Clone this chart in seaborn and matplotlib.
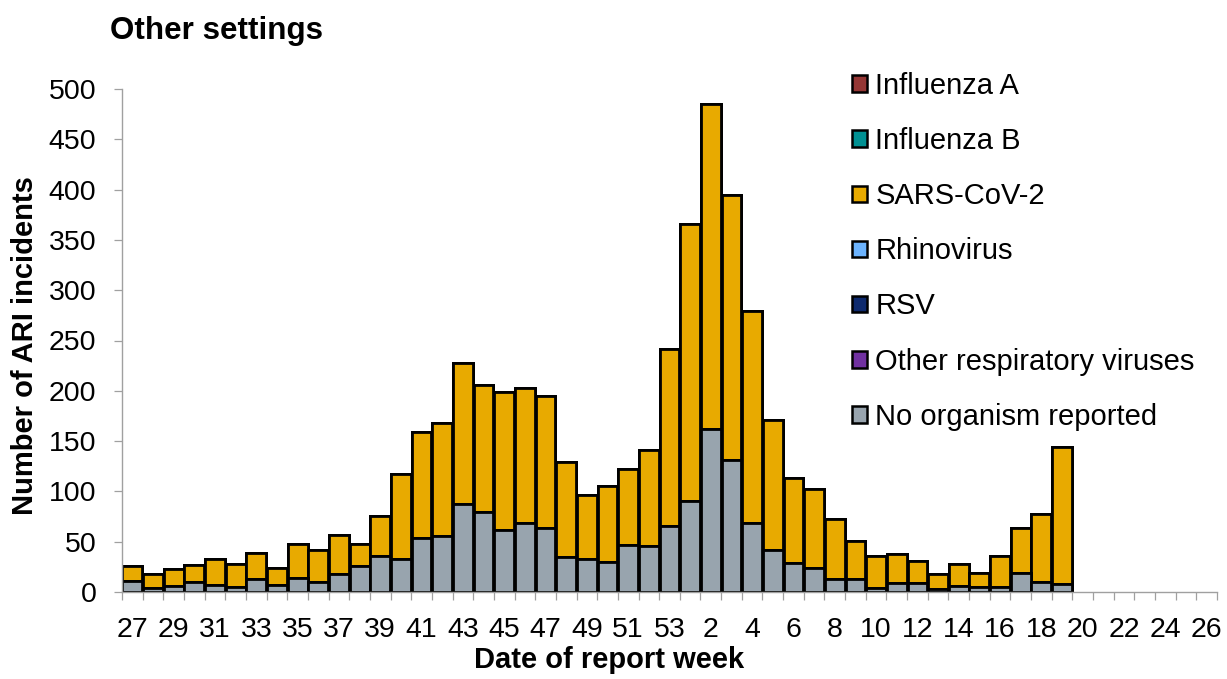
import numpy as np
import pandas as pd
import matplotlib
matplotlib.use("Agg")
import matplotlib.pyplot as plt
from matplotlib.patches import Patch
import seaborn as sns

# ---------------- data ----------------
weeks = list(range(27, 54)) + list(range(1, 27))
no_organism = [11, 4, 6, 10, 7, 5, 13, 7, 14, 10, 18, 26, 36, 33, 54, 56, 87, 80, 62, 69, 64,
               35, 33, 30, 47, 46, 66, 90, 162, 131, 69, 42, 29, 24, 13, 13, 4, 9, 9, 3, 6, 5,
               5, 19, 10, 8]
sars_cov_2 = [15, 14, 17, 17, 26, 23, 26, 17, 34, 32, 39, 22, 40, 84, 105, 112, 141, 126, 137,
              134, 131, 94, 63, 75, 75, 95, 176, 276, 323, 264, 210, 129, 84, 78, 60, 38, 32,
              29, 22, 15, 22, 14, 31, 45, 68, 136]
n_obs = len(no_organism)
influenza_a = [0] * n_obs
influenza_b = [0] * n_obs
rhinovirus = [0] * n_obs
rsv = [0] * n_obs
other_resp = [0] * n_obs

series_names = ["Influenza A", "Influenza B", "SARS-CoV-2", "Rhinovirus", "RSV",
                "Other respiratory viruses", "No organism reported"]
series_values = [influenza_a, influenza_b, sars_cov_2, rhinovirus, rsv, other_resp, no_organism]
series_colors = ["#953735", "#009193", "#E8AA00", "#6CB4FF", "#0E2A6E", "#7030A0", "#98A4AE"]

title_text = "Other settings"
y_label = "Number of ARI incidents"
x_label = "Date of report week"

# ---------------- build stacked table ----------------
labels = [str(w) for w in weeks]
pad = [np.nan] * (len(weeks) - n_obs)
df = pd.DataFrame({"week": labels})
# stack bottom -> top in reverse legend order
cum = np.zeros(len(weeks))
cum_cols = []
for name, vals in zip(series_names[::-1], series_values[::-1]):
    v = np.array(list(vals) + pad, dtype=float)
    cum = cum + v
    df[name] = cum
    cum_cols.append(name)

# ---------------- plot ----------------
sns.set_theme(style="white")
plt.rcParams["font.family"] = ["Liberation Sans", "DejaVu Sans"]
plt.rcParams["text.color"] = "black"
plt.rcParams["axes.labelcolor"] = "black"
plt.rcParams["xtick.color"] = "black"
plt.rcParams["ytick.color"] = "black"

fig = plt.figure(figsize=(12.27, 6.79), dpi=100)
ax = fig.add_axes([122 / 1227, 1 - 592 / 679, (1217 - 122) / 1227, (592 - 89) / 679])

color_map = dict(zip(series_names, series_colors))
# draw top cumulative first, then lower layers on top of it
for name in cum_cols[::-1]:
    sns.barplot(data=df, x="week", y=name, order=labels, color=color_map[name],
                saturation=1, edgecolor="black", linewidth=2.0, width=0.96,
                errorbar=None, ax=ax)

ax.set_xlim(-0.5, len(weeks) - 0.5)
ax.set_ylim(0, 500)
ax.set_yticks(np.arange(0, 501, 50))
ax.set_xlabel("")
ax.set_ylabel("")

grey = "#A0A0A0"
for s in ["top", "right"]:
    ax.spines[s].set_visible(False)
for s in ["left", "bottom"]:
    ax.spines[s].set_color(grey)
    ax.spines[s].set_linewidth(1.0)

ax.set_xticks(np.arange(-0.5, len(weeks), 1.0))
ax.set_xticklabels([])
ax.set_xticks(np.arange(0, len(weeks), 2), minor=True)
ax.set_xticklabels(labels[::2], minor=True)
ax.tick_params(axis="x", which="major", length=6, width=0.9, color=grey, direction="out", bottom=True)
ax.tick_params(axis="x", which="minor", length=0, pad=18, labelsize=20.5, labelcolor="black",
               bottom=True)
ax.tick_params(axis="y", which="major", length=6, width=0.9, color=grey, direction="out",
               pad=12.5, labelsize=20.5, labelcolor="black", left=True)

fig.text(110 / 1227, 1 - 38.5 / 679, title_text, fontsize=22.6, fontweight="bold",
         ha="left", va="baseline", color="black")
fig.text(609 / 1227, 1 - 668 / 679, x_label, fontsize=21, fontweight="bold",
         ha="center", va="baseline", color="black")
fig.text(33 / 1227, 1 - 346 / 679, y_label, fontsize=21, fontweight="bold",
         rotation=90, rotation_mode="anchor", ha="center", va="baseline", color="black")

handles = [Patch(facecolor=c, edgecolor="black", linewidth=1.8) for c in series_colors]
fig.legend(handles, series_names, loc="upper left",
           bbox_to_anchor=(852 / 1227, 1 - 72 / 679), frameon=False, fontsize=21,
           borderpad=0, borderaxespad=0, handlelength=0.5, handleheight=0.5,
           handletextpad=0.3, labelspacing=0.93, labelcolor="black")

fig.savefig("out.png", dpi=100, facecolor="white")
